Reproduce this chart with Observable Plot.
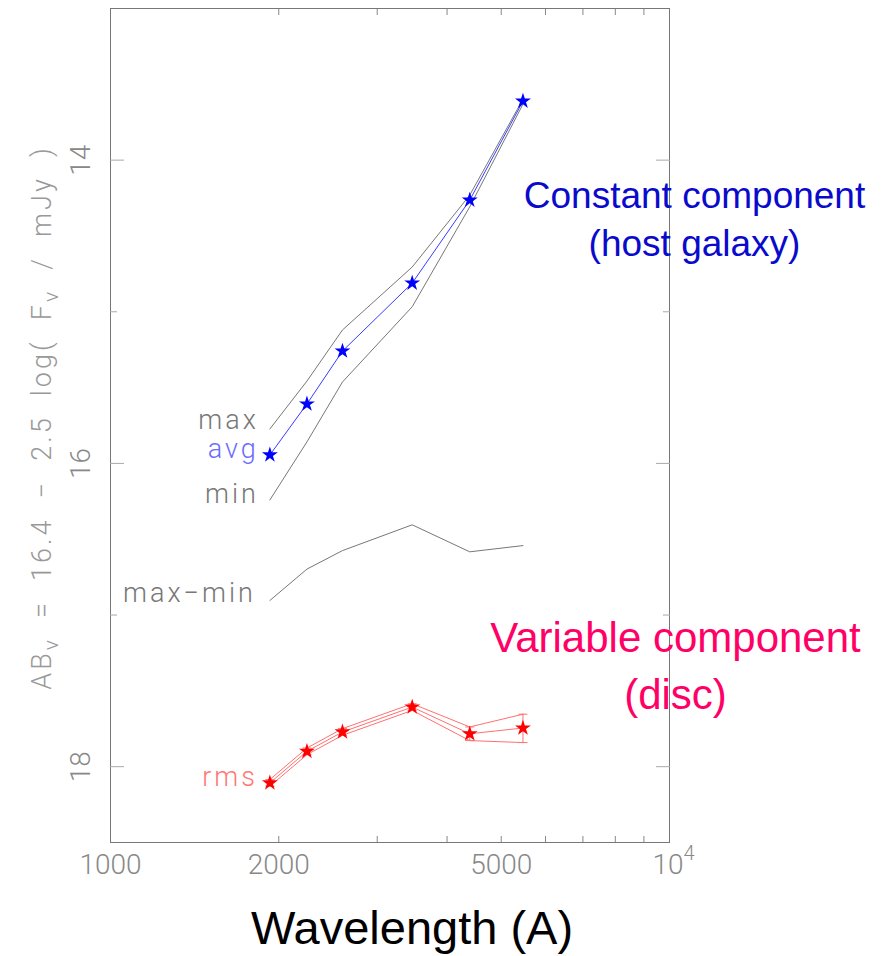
<!DOCTYPE html>
<html><head><meta charset="utf-8">
<script src="https://cdn.jsdelivr.net/npm/d3@7"></script>
<script src="https://cdn.jsdelivr.net/npm/@observablehq/plot@0.6"></script>
<style>body{margin:0;background:#fff}#chart{width:888px;height:956px}</style>
</head><body><div id="chart"></div>
<script>
// Data (AB magnitudes vs wavelength in Angstrom)
const wavelengths = [1928, 2246, 2600, 3465, 4392, 5468];
const avgMag   = [15.944, 15.608, 15.259, 14.811, 14.264, 13.611];
const maxMag   = [15.773, 15.457, 15.120, 14.705, 14.231, 13.598];
const minMag   = [16.241, 15.858, 15.463, 14.967, 14.308, 13.631];
const rangeMag = [16.904, 16.697, 16.575, 16.405, 16.583, 16.542];
const rmsMag   = [18.107, 17.899, 17.771, 17.607, 17.783, 17.745];
const rmsUpper = [18.085, 17.877, 17.749, 17.585, 17.738, 17.654];
const rmsLower = [18.129, 17.921, 17.793, 17.629, 17.828, 17.841];
const seriesLabels = ["max", "avg", "min", "max\u2212min", "rms"];
const xTickLabels = [1000, 2000, 5000, 10000];
const xMinorTicks = [2000, 3000, 4000, 5000, 6000, 7000, 8000, 9000];
const yMajorTicks = [14, 16, 18];
const yMinorTicks = [15, 17];
const yTitle = "AB = 16.4 \u2212 2.5 log( F / mJy )";
const xTitle = "Wavelength (A)";
const annotConst = "Constant component\n(host galaxy)";
const annotVar = "Variable component\n(disc)";

const rows = wavelengths.map((w, i) => ({
  w, avg: avgMag[i], max: maxMag[i], min: minMag[i], range: rangeMag[i],
  rms: rmsMag[i], hi: rmsUpper[i], lo: rmsLower[i]
}));
const first = [rows[0]];

const thin = {fontFamily: "Roboto, 'DejaVu Sans', sans-serif", fontWeight: 300};
const capSymbol = {draw(ctx) { ctx.moveTo(-4.5, 0); ctx.lineTo(4.5, 0); }};

const chart = Plot.plot({
  width: 888, height: 956,
  marginLeft: 110, marginRight: 219, marginTop: 8, marginBottom: 114,
  x: {type: "log", domain: [1000, 10000]},
  y: {domain: [13, 18.5], reverse: true},
  style: {background: "#fff"},
  marks: [
    Plot.frame({stroke: "#777"}),
    // tick lines (inward)
    Plot.axisX({anchor: "bottom", ticks: xMinorTicks, tickSize: -6, stroke: "#888", fill: "none", label: null}),
    Plot.axisX({anchor: "top", ticks: xMinorTicks, tickSize: -6, stroke: "#888", fill: "none", label: null}),
    Plot.axisY({anchor: "left", ticks: yMajorTicks, tickSize: -14, stroke: "#aaa", fill: "none", label: null}),
    Plot.axisY({anchor: "right", ticks: yMajorTicks, tickSize: -14, stroke: "#aaa", fill: "none", label: null}),
    Plot.axisY({anchor: "left", ticks: yMinorTicks, tickSize: -7, stroke: "#aaa", fill: "none", label: null}),
    Plot.axisY({anchor: "right", ticks: yMinorTicks, tickSize: -7, stroke: "#aaa", fill: "none", label: null}),
    // tick labels
    Plot.axisX({anchor: "bottom", ticks: xTickLabels, tickSize: 0, tickPadding: 12,
      tickFormat: d => String(d), fill: "#888", fontSize: 28, ...thin, label: null, className: "xlabels"}),
    Plot.text(yMajorTicks, {y: d => d, frameAnchor: "left", rotate: -90, dx: -21,
      textAnchor: "middle", lineAnchor: "bottom", fill: "#888", fontSize: 28, ...thin}),
    // axis titles
    Plot.text([yTitle], {frameAnchor: "left", rotate: -90, dx: -60, dy: -8,
      textAnchor: "middle", lineAnchor: "bottom", fill: "#999", fontSize: 27, ...thin, className: "ytitle"}),
    Plot.text([xTitle], {frameAnchor: "bottom", dx: 22, dy: 101, textAnchor: "middle",
      lineAnchor: "bottom", fill: "#000", fontSize: 47, fontFamily: "'Liberation Sans', Arial, sans-serif"}),
    // series lines
    Plot.line(rows, {x: "w", y: "max", stroke: "#777", strokeWidth: 1}),
    Plot.line(rows, {x: "w", y: "min", stroke: "#777", strokeWidth: 1}),
    Plot.line(rows, {x: "w", y: "avg", stroke: "#3a3aff", strokeWidth: 1}),
    Plot.line(rows, {x: "w", y: "range", stroke: "#777", strokeWidth: 1}),
    Plot.line(rows, {x: "w", y: "hi", stroke: "#ff7070", strokeWidth: 1}),
    Plot.line(rows, {x: "w", y: "lo", stroke: "#ff7070", strokeWidth: 1}),
    Plot.line(rows, {x: "w", y: "rms", stroke: "#ff7070", strokeWidth: 1}),
    Plot.ruleX(rows, {x: "w", y1: "lo", y2: "hi", stroke: "#ff7070", strokeWidth: 1}),
    Plot.dot(rows, {x: "w", y: "hi", symbol: capSymbol, stroke: "#ff7070", strokeWidth: 1}),
    Plot.dot(rows, {x: "w", y: "lo", symbol: capSymbol, stroke: "#ff7070", strokeWidth: 1}),
    // stars
    Plot.dot(rows, {x: "w", y: "avg", symbol: "star", r: 5, fill: "#0000ff"}),
    Plot.dot(rows, {x: "w", y: "rms", symbol: "star", r: 5, fill: "#ff0000"}),
    // series labels
    Plot.text(first, {x: "w", y: "max", text: () => seriesLabels[0], textAnchor: "end", dx: -11, dy: -9, fill: "#777", fontSize: 27, ...thin, className: "slab"}),
    Plot.text(first, {x: "w", y: "avg", text: () => seriesLabels[1], textAnchor: "end", dx: -11, dy: -6, fill: "#6b6bff", fontSize: 27, ...thin, className: "slab"}),
    Plot.text(first, {x: "w", y: "min", text: () => seriesLabels[2], textAnchor: "end", dx: -11, dy: -6, fill: "#777", fontSize: 27, ...thin, className: "slab"}),
    Plot.text(first, {x: "w", y: "range", text: () => seriesLabels[3], textAnchor: "end", dx: -14, dy: -7, fill: "#777", fontSize: 27, ...thin, className: "slab"}),
    Plot.text(first, {x: "w", y: "rms", text: () => seriesLabels[4], textAnchor: "end", dx: -12, dy: -6, fill: "#ff7777", fontSize: 27, ...thin, className: "slab"}),
    // annotations
    Plot.text([annotConst], {frameAnchor: "top-right", dx: 25, dy: 208, textAnchor: "middle", lineAnchor: "middle",
      lineHeight: 1.3, fontSize: 37, fill: "#0a0acc", fontFamily: "'Liberation Sans', Arial, sans-serif"}),
    Plot.text([annotVar], {frameAnchor: "top-right", dx: 6, dy: 654, textAnchor: "middle", lineAnchor: "middle",
      lineHeight: 1.34, fontSize: 42, fill: "#ff0066", fontFamily: "'Liberation Sans', Arial, sans-serif"})
  ]
});
document.getElementById("chart").appendChild(chart);

// subscript nu in the y title
const yt = chart.querySelector(".ytitle text");
if (yt) {
  const sub = '<tspan dy="7" font-size="21">\u03bd</tspan>';
  yt.innerHTML = 'AB' + sub + '<tspan dy="-7">  =  16.4  \u2212  2.5  log(  F</tspan>' + sub +
    '<tspan dy="-7">  /  mJy  )</tspan>';
  yt.setAttribute("style", "white-space:pre");
  yt.setAttribute("letter-spacing", "3");
}
// wide letter spacing for series labels
chart.querySelectorAll(".slab text").forEach(t => t.setAttribute("letter-spacing", "3"));
// 10^4 label with superscript
chart.querySelectorAll(".xlabels text").forEach(t => {
  if (t.textContent === "10000") {
    t.innerHTML = '10<tspan dy="-14" font-size="20">4</tspan>';
    t.setAttribute("dx", "4");
  }
});
</script>
</body></html>
